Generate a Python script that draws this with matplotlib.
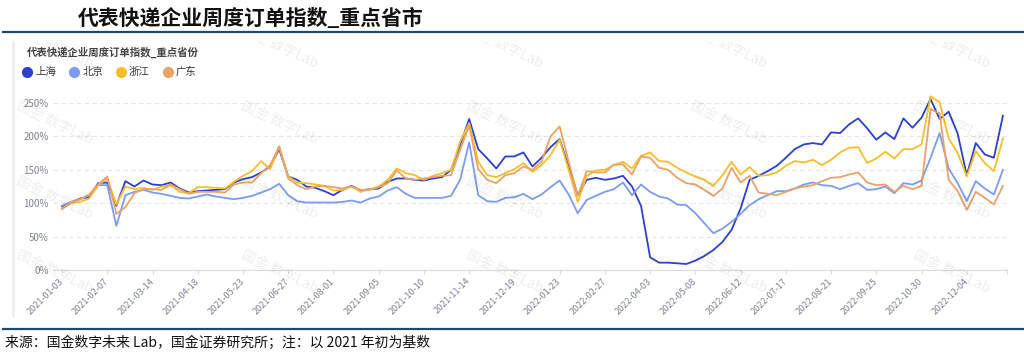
import matplotlib
matplotlib.use("Agg")
import matplotlib.pyplot as plt
from matplotlib.lines import Line2D
from matplotlib.transforms import Bbox, TransformedBbox
import numpy as np

plt.rcParams['font.family'] = ['Noto Sans CJK SC', 'DejaVu Sans']

# weekly index, base = start of 2021 (percent)
tick_labels = ["2021-01-03", "2021-02-07", "2021-03-14", "2021-04-18", "2021-05-23",
               "2021-06-27", "2021-08-01", "2021-09-05", "2021-10-10", "2021-11-14",
               "2021-12-19", "2022-01-23", "2022-02-27", "2022-04-03", "2022-05-08",
               "2022-06-12", "2022-07-17", "2022-08-21", "2022-09-25", "2022-10-30",
               "2022-12-04"]

shanghai = [95, 101, 107, 109, 130, 131, 96, 133, 125, 134, 128, 127, 131, 122, 116, 118, 119, 120,
            121, 131, 136, 139, 146, 155, 181, 140, 135, 125, 123, 118, 112, 120, 126, 119, 121,
            122, 132, 137, 137, 135, 134, 137, 139, 150, 187, 226, 181, 167, 152, 170, 170, 176,
            155, 168, 184, 196, 155, 112, 135, 138, 135, 137, 141, 125, 96, 19, 11, 11, 10,
            9, 14, 21, 30, 42, 60, 92, 135, 141, 148, 156, 168, 181, 188, 190, 188, 206,
            205, 218, 227, 212, 195, 206, 196, 227, 213, 228, 256, 226, 237, 204, 142, 190, 173, 168, 231]

beijing = [96, 102, 106, 112, 127, 127, 66, 112, 117, 120, 116, 114, 111, 108, 107, 110, 113, 110,
           108, 106, 108, 111, 116, 121, 129, 112, 103, 101, 101, 101, 101, 102, 104, 101, 107,
           110, 119, 124, 114, 108, 108, 108, 108, 111, 135, 191, 112, 103, 102, 108, 109, 114,
           106, 113, 124, 134, 113, 85, 105, 111, 117, 121, 131, 112, 128, 117, 110, 107, 98,
           97, 85, 70, 55, 62, 72, 84, 97, 106, 112, 118, 118, 122, 128, 131, 127, 126,
           121, 126, 130, 120, 121, 125, 115, 130, 128, 134, 168, 205, 152, 130, 103, 133, 122, 113, 150]

zhejiang = [92, 100, 102, 107, 127, 137, 98, 125, 121, 123, 120, 125, 127, 117, 115, 124, 124, 123,
            122, 132, 141, 148, 163, 151, 185, 140, 131, 130, 128, 126, 119, 120, 125, 117, 121,
            125, 135, 152, 145, 142, 135, 141, 145, 150, 192, 220, 162, 142, 139, 145, 151, 160,
            147, 157, 172, 195, 150, 102, 141, 149, 150, 157, 162, 152, 171, 176, 163, 162, 153,
            146, 140, 135, 126, 142, 162, 143, 154, 141, 142, 146, 156, 163, 161, 165, 157, 165,
            176, 183, 184, 160, 167, 177, 167, 181, 181, 188, 260, 251, 197, 175, 140, 178, 160, 148, 197]

guangdong = [91, 101, 106, 113, 128, 140, 84, 94, 115, 121, 121, 120, 128, 121, 114, 117, 117, 117,
             116, 128, 131, 131, 145, 157, 185, 137, 127, 121, 125, 126, 124, 122, 125, 120, 120,
             124, 130, 149, 137, 135, 137, 139, 141, 142, 180, 216, 151, 135, 130, 142, 145, 155,
             150, 162, 200, 215, 162, 111, 148, 146, 146, 158, 158, 143, 170, 168, 153, 150, 138,
             130, 128, 120, 111, 122, 153, 131, 141, 116, 114, 112, 117, 122, 125, 127, 133, 138,
             139, 143, 146, 131, 127, 128, 117, 126, 121, 126, 241, 234, 135, 118, 90, 117, 108, 98, 126]

series_names = ["上海", "北京", "浙江", "广东"]
colors = ["#2b3fd3", "#7b9bf8", "#f6bf2a", "#eca266"]

fig = plt.figure(figsize=(10.24, 3.6), dpi=100)
W, H = 1024, 360

# header / footer decoration
fig.add_artist(Line2D([3 / W, 1], [1 - 32 / H] * 2, color="#1d4a6b", lw=1.6))
fig.add_artist(Line2D([3 / W, 1], [1 - 329 / H] * 2, color="#1d4a6b", lw=1.6))
fig.add_artist(Line2D([13 / W] * 2, [1 - 42 / H, 1 - 316 / H], color="#eeeeee", lw=2))
fig.text(78 / W, 1 - 18 / H, "代表快递企业周度订单指数_重点省市", fontsize=15,
         fontweight="bold", style="italic", va="center", color="#111111")
fig.text(5 / W, 1 - 343 / H, "来源：国金数字未来 Lab，国金证券研究所；注：以 2021 年初为基数",
         fontsize=10, va="center", color="#111111")
fig.text(27 / W, 1 - 52 / H, "代表快递企业周度订单指数_重点省份", fontsize=7.5,
         fontweight="bold", va="center", color="#444444")

# watermark
panel = TransformedBbox(Bbox([[14 / W, 1 - 316 / H], [1, 1 - 42 / H]]), fig.transFigure)
for cx in [55, 280, 505, 729, 952]:
    for cy in [47, 123, 198, 272]:
        t = fig.text(cx / W, 1 - cy / H, "国金 数字Lab", rotation=-25, ha="center", va="center",
                     fontsize=10, color="#000000", alpha=0.07)
        t.set_clip_box(panel)
        t.set_clip_on(True)

ax = fig.add_axes([53 / W, 90 / H, (1007 - 53) / W, (270 - 103) / H])
x = np.arange(len(shanghai))
for name, vals, c in zip(series_names, [shanghai, beijing, zhejiang, guangdong], colors):
    ax.plot(x, vals, color=c, lw=1.3, label=name, clip_on=False)

ax.set_xlim(-1, 104.45)
ax.set_ylim(0, 250)
ax.set_yticks(range(0, 251, 50))
ax.set_yticklabels([f"{v}%" for v in range(0, 251, 50)])
ax.yaxis.grid(True, color="#e6e6e6", lw=0.8, ls=(0, (4, 3)))
ax.set_axisbelow(True)
ax.set_xticks(range(0, 101, 5))
ax.set_xticklabels(tick_labels, rotation=45, ha="right", va="center", rotation_mode="anchor")
ax.set_xticks([104.45], minor=True)
ax.tick_params(axis="y", length=0, pad=3, labelsize=7, labelcolor="#7d8294")
ax.tick_params(axis="x", which="both", length=3, color="#dcdcdc", pad=4, labelsize=6.5,
               labelcolor="#7d8294")
for s in ["top", "right", "left"]:
    ax.spines[s].set_visible(False)
ax.spines["bottom"].set_color("#dcdcdc")

handles = [Line2D([], [], color=c, marker="o", ls="", markersize=7) for c in colors]
fig.legend(handles, series_names, loc="center left", bbox_to_anchor=(22 / W, 1 - 72 / H),
           ncol=4, frameon=False, fontsize=7.5, handletextpad=0.3, columnspacing=1.2,
           handlelength=1.0, borderaxespad=0, borderpad=0, labelcolor="#333333")

fig.savefig("out.png", dpi=100)
